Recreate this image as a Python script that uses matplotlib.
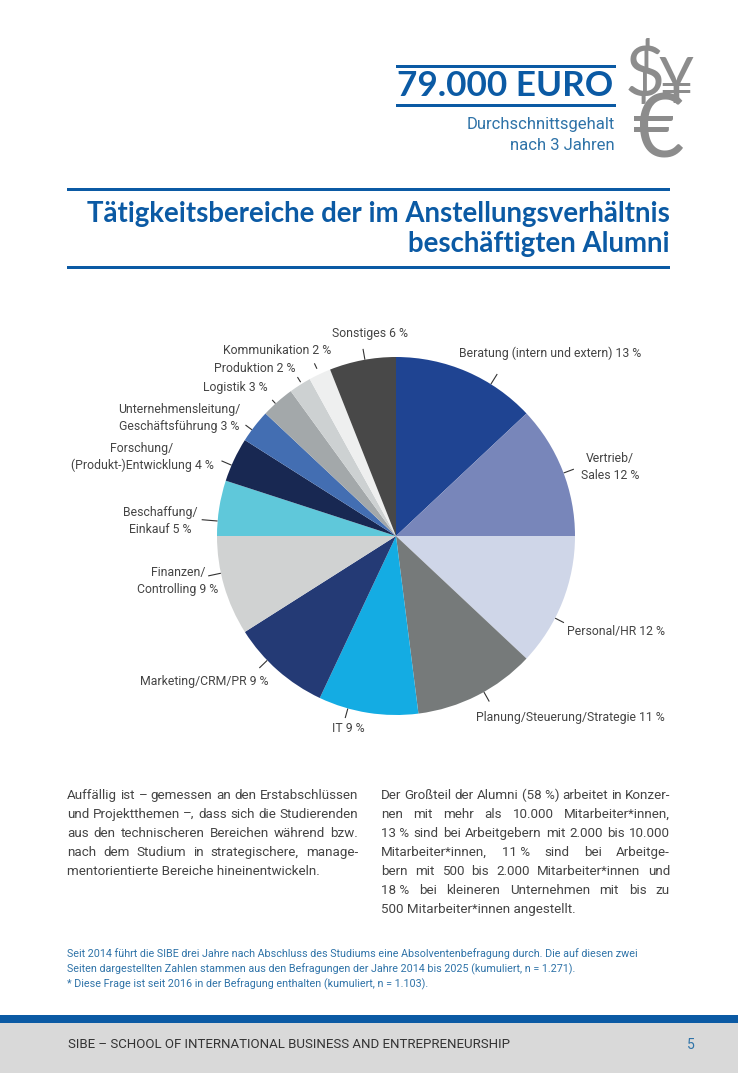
import matplotlib
matplotlib.use("Agg")
import matplotlib.pyplot as plt
from matplotlib.patches import Rectangle
import numpy as np

plt.rcParams["font.family"] = ["Roboto", "DejaVu Sans"]
HEAD_FONT = ["Lato", "DejaVu Sans"]

# chart data
categories = [
    "Beratung (intern und extern)", "Vertrieb/Sales", "Personal/HR", "Planung/Steuerung/Strategie",
    "IT", "Marketing/CRM/PR", "Finanzen/Controlling", "Beschaffung/Einkauf",
    "Forschung/(Produkt-)Entwicklung", "Unternehmensleitung/Geschäftsführung", "Logistik",
    "Produktion", "Kommunikation", "Sonstiges",
]
values = [13, 12, 12, 11, 9, 9, 9, 5, 4, 3, 3, 2, 2, 6]
colors = [
    "#1f4492", "#7886ba", "#cfd6e8", "#767a7a", "#14ace3", "#243a75", "#d0d2d2",
    "#5fc8da", "#182852", "#436eb2", "#a3a8aa", "#cdd1d2", "#eeefef", "#484848",
]
label_texts = [
    "Beratung (intern und extern) 13 %", "Vertrieb/\nSales 12 %", "Personal/HR 12 %",
    "Planung/Steuerung/Strategie 11 %", "IT 9 %", "Marketing/CRM/PR 9 %",
    "Finanzen/\nControlling 9 %", "Beschaffung/\nEinkauf 5 %",
    "Forschung/\n(Produkt-)Entwicklung 4 %", "Unternehmensleitung/\nGeschäftsführung 3 %",
    "Logistik 3 %", "Produktion 2 %", "Kommunikation 2 %", "Sonstiges 6 %",
]

# label layout in page pixels: x, y, ha
label_pos = [
    (459, 353, "left"), (610, 467, "center"), (567, 631, "left"), (476, 718, "left"),
    (332, 729, "left"), (269, 681, "right"), (178, 581, "center"), (160, 521, "center"),
    (142, 457, "center"), (179, 418, "center"), (268, 388, "right"), (295, 368, "right"),
    (331, 351, "right"), (332, 333, "left"),
]
# leader direction (degrees clockwise from top), length px, gap px
leader_deg = [32, 69.4, 117.3, 150.6, 195.6, 226, 258, 274.8, 293.3, 306.4, 317.7, 328.2, 334.7, 350]
leader_len = [12, 11, 10, 11, 10, 11, 13, 16, 11, 8, 5, 6, 6, 11]
leader_gap = [0, 0, 0, 0, 0, 0, 0, 0, 0, 0, 0, 2, 6, 0]

left_lines = [
    "Auffällig ist – gemessen an den Erstabschlüssen",
    "und Projektthemen –, dass sich die Studierenden",
    "aus den technischeren Bereichen während bzw.",
    "nach dem Studium in strategischere, manage-",
    "mentorientierte Bereiche hineinentwickeln.",
]
right_lines = [
    "Der Großteil der Alumni (58\u00a0%) arbeitet in Konzer-",
    "nen mit mehr als 10.000 Mitarbeiter*innen,",
    "13\u00a0% sind bei Arbeitgebern mit 2.000 bis 10.000",
    "Mitarbeiter*innen, 11\u00a0% sind bei Arbeitge-",
    "bern mit 500 bis 2.000 Mitarbeiter*innen und",
    "18\u00a0% bei kleineren Unternehmen mit bis zu",
    "500 Mitarbeiter*innen angestellt.",
]
footnotes = [
    "Seit 2014 führt die SIBE drei Jahre nach Abschluss des Studiums eine Absolventenbefragung durch. Die auf diesen zwei",
    "Seiten dargestellten Zahlen stammen aus den Befragungen der Jahre 2014 bis 2025 (kumuliert, n\u00a0=\u00a01.271).",
    "* Diese Frage ist seit 2016 in der Befragung enthalten (kumuliert, n\u00a0=\u00a01.103).",
]

BLUE = "#0b5aa4"
SOFT_BLUE = "#2f73a8"
TEXT = "#444444"
W, H = 738, 1073
CX, CY, R = 396, 536, 179

fig = plt.figure(figsize=(W / 100, H / 100), dpi=100, facecolor="white")
page = fig.add_axes([0, 0, 1, 1])
page.set_xlim(0, W)
page.set_ylim(H, 0)
page.axis("off")


def rule(x0, x1, y, lw=3):
    page.add_patch(Rectangle((x0, y - lw / 2), x1 - x0, lw, color=BLUE, lw=0))


def justified(lines, x0, x1, y0, dy, size, color=TEXT):
    renderer = fig.canvas.get_renderer()
    for i, line in enumerate(lines):
        y = y0 + i * dy
        words = line.split(" ")
        if i == len(lines) - 1:
            page.text(x0, y, line, fontsize=size, color=color, va="baseline")
            continue
        items = [page.text(0, y, w, fontsize=size, color=color, va="baseline") for w in words]
        widths = [t.get_window_extent(renderer).width for t in items]
        gap = (x1 - x0 - sum(widths)) / (len(words) - 1)
        x = x0
        for t, w in zip(items, widths):
            t.set_x(x)
            x += w + gap


# header block
rule(396, 616, 66)
rule(396, 616, 105)
page.text(613, 86, "79.000 EURO", fontsize=25.3, color=BLUE, weight="bold", ha="right", va="center", family=HEAD_FONT)
page.text(615, 124, "Durchschnittsgehalt", fontsize=12, color=SOFT_BLUE, ha="right", va="center")
page.text(615, 146, "nach 3 Jahren", fontsize=12, color=SOFT_BLUE, ha="right", va="center")
page.text(645, 75, "$", fontsize=50, color="#8c8c8c", ha="center", va="center", family=HEAD_FONT)
page.text(676, 85, "¥", fontsize=46, color="#8c8c8c", ha="center", va="center", family=HEAD_FONT)
page.text(659, 133, "€", fontsize=64, color="#8c8c8c", ha="center", va="center", family=HEAD_FONT)

# title block
rule(67, 670, 189)
rule(67, 670, 267)
page.text(670, 214, "Tätigkeitsbereiche der im Anstellungsverhältnis", fontsize=19.9, color=BLUE, weight="bold", ha="right", va="center", family=HEAD_FONT)
page.text(670, 244, "beschäftigten Alumni", fontsize=19.9, color=BLUE, weight="bold", ha="right", va="center", family=HEAD_FONT)

# pie
pie_ax = fig.add_axes([(CX - R) / W, 1 - (CY + R) / H, 2 * R / W, 2 * R / H])
pie_ax.pie(values, colors=colors, startangle=90, counterclock=False, radius=1,
           wedgeprops={"linewidth": 0})
pie_ax.set_xlim(-1, 1)
pie_ax.set_ylim(-1, 1)

# leaders and labels
for text, (x, y, ha), deg, length, gap in zip(label_texts, label_pos, leader_deg, leader_len, leader_gap):
    a = np.deg2rad(deg)
    r0, r1 = R + gap, R + gap + length
    page.plot([CX + r0 * np.sin(a), CX + r1 * np.sin(a)], [CY - r0 * np.cos(a), CY - r1 * np.cos(a)],
              color="#333333", lw=0.8, solid_capstyle="butt")
    page.text(x, y, text, fontsize=8.8, color=TEXT, ha=ha, va="center", multialignment="center",
              linespacing=1.35)

# body text
justified(left_lines, 67, 358, 799, 19, 9.6)
justified(right_lines, 381, 670, 799, 19, 9.6)
for i, line in enumerate(footnotes):
    page.text(67, 957 + i * 15, line, fontsize=7.75, color=SOFT_BLUE, va="baseline")

# footer
page.add_patch(Rectangle((0, 1022), W, H - 1022, color="#d9d9d9", lw=0))
page.add_patch(Rectangle((0, 1015), W, 8, color=BLUE, lw=0))
page.text(68, 1044, "SIBE – SCHOOL OF INTERNATIONAL BUSINESS AND ENTREPRENEURSHIP", fontsize=9.5, color="#333333", va="center")
page.text(691, 1045, "5", fontsize=10, color=SOFT_BLUE, ha="center", va="center")

fig.savefig("out.png", dpi=100)
